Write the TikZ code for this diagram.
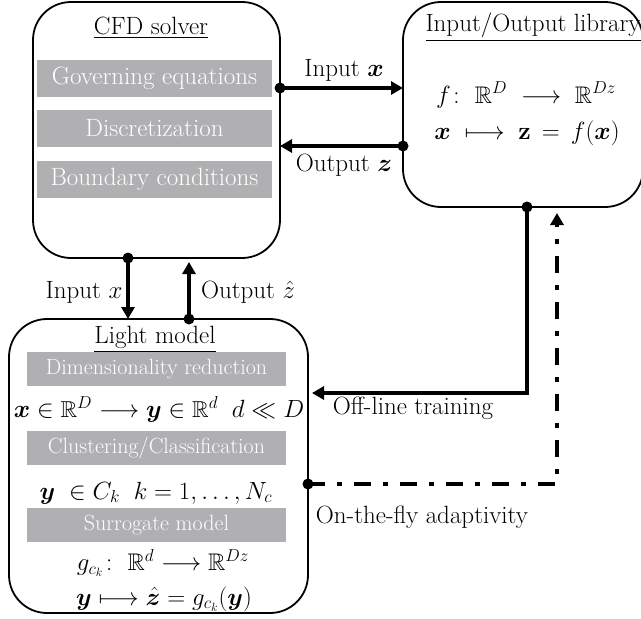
\documentclass[tikz,border=0pt]{standalone}
\usepackage{amsmath,amssymb,bm}
\usetikzlibrary{arrows.meta,calc}
\definecolor{barg}{RGB}{176,176,178}
\begin{document}
\begin{tikzpicture}[x=1pt,y=-1pt,
  box/.style={draw, line width=1.8pt, rounded corners=38pt, inner sep=0pt, outer sep=0pt},
  txt/.style={inner sep=1pt, font=\fontsize{25}{29}\selectfont},
  ttl/.style={txt, anchor=base},
  bar/.style={fill=barg, text=white, inner sep=0pt, font=\fontsize{25}{29}\selectfont},
  lbar/.style={bar, minimum width=259pt, minimum height=34pt, font=\fontsize{22}{26}\selectfont},
  mth/.style={inner sep=0pt, font=\fontsize{24}{28}\selectfont},
  conn/.style={line width=4pt, -{Triangle[length=12pt,width=13pt]}},
  dashdotted4/.style={dash pattern=on 17pt off 12pt on 5pt off 12pt},
  dotc/.style={fill=black}]
\useasboundingbox (0,0) rectangle (641,619);
% boxes
\node[box, minimum width=247pt, minimum height=256pt] (cfd) at (156.5,130) {};
\node[box, minimum width=240pt, minimum height=205pt] (io) at (523,104.5) {};
\node[box, minimum width=299pt, minimum height=294pt] (light) at (158.5,466) {};
% CFD solver content
\node[bar, minimum width=235pt, minimum height=37pt] (b1) at (154.5,78.5) {Governing equations};
\node[bar, minimum width=235pt, minimum height=37pt] (b2) at (154.5,128.5) {Discretization};
\node[bar, minimum width=235pt, minimum height=37pt] (b3) at (154.5,179.5) {Boundary conditions};
\node[ttl] (cfdt) at (151,34) {\underline{CFD solver}};
% IO library content
\node[ttl] (iot) at (533,31) {\underline{Input/Output library}};
\node[mth] (iom1) at (526,95) {$f\colon\;\mathbb{R}^{D}\;\longrightarrow\;\mathbb{R}^{Dz}$};
\node[mth] (iom2) at (527,133) {$\bm{x}\;\longmapsto\;\mathbf{z}\,=\,f(\bm{x})$};
% Light model content
\node[lbar] (c1) at (156.5,369) {Dimensionality reduction};
\node[ttl] (lt) at (155,343) {\underline{Light model}};
\node[mth, font=\fontsize{23}{27}\selectfont] (m1) at (159,409) {$\bm{x}\in\mathbb{R}^{D}\longrightarrow\bm{y}\in\mathbb{R}^{d}\;\;d\ll D$};
\node[lbar] (c2) at (156.5,448) {Clustering/Classification};
\node[mth] (m2) at (156,493) {$\bm{y}\;\in C_k\;\;k=1,\dots,N_c$};
\node[lbar] (c3) at (156.5,525) {Surrogate model};
\node[mth] (m3) at (163,563) {$g_{c_k}\colon\;\mathbb{R}^{d}\longrightarrow\mathbb{R}^{Dz}$};
\node[mth] (m4) at (164,599) {$\bm{y}\longmapsto\hat{\bm{z}}=g_{c_k}(\bm{y})$};
% helper coordinates
\coordinate (hA) at (0,88);
\coordinate (hB) at (0,146);
\coordinate (hC) at (0,393);
\coordinate (hD) at (0,484);
\coordinate (vA) at (128,0);
\coordinate (vB) at (189,0);
\coordinate (vC) at (527,0);
\coordinate (vD) at (557,0);
% connectors
\draw[conn] (cfd.east |- hA) -- (io.west |- hA);
\fill[dotc] (cfd.east |- hA) circle[radius=5.5pt];
\draw[conn] (io.west |- hB) -- (cfd.east |- hB);
\fill[dotc] (io.west |- hB) circle[radius=5.5pt];
\draw[conn] (cfd.south -| vA) -- (light.north -| vA);
\fill[dotc] (cfd.south -| vA) circle[radius=5.5pt];
\draw[conn, shorten >=4pt] (light.north -| vB) -- (cfd.south -| vB);
\fill[dotc] (light.north -| vB) circle[radius=5.5pt];
\draw[conn, shorten >=4pt] (io.south -| vC) |- (light.east |- hC);
\fill[dotc] (io.south -| vC) circle[radius=5.5pt];
\draw[conn, dashdotted4, shorten >=6pt] (light.east |- hD) -| (io.south -| vD);
\fill[dotc] (light.east |- hD) circle[radius=5.5pt];
% labels
\node[txt] (l1) at (344,70) {Input $\bm{x}$};
\node[txt] (l2) at (344,165) {Output $\bm{z}$};
\node[txt] (l3) at (84,292) {Input $x$};
\node[txt] (l4) at (248,292) {Output $\hat{z}$};
\node[txt] (l5) at (413,408) {Off-line training};
\node[txt] (l6) at (422,517) {On-the-fly adaptivity};
\end{tikzpicture}
\end{document}
